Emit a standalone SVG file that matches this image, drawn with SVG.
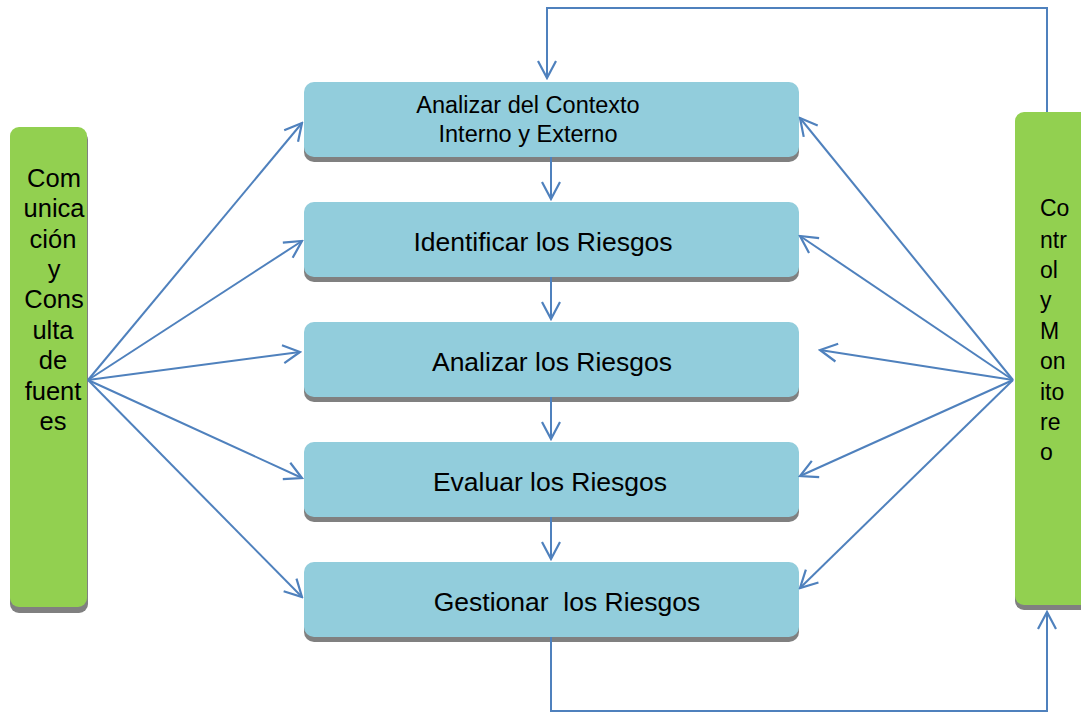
<svg xmlns="http://www.w3.org/2000/svg" width="1081" height="713" viewBox="0 0 1081 713">
<defs>
<marker id="ah" viewBox="-18 -11 20 22" markerWidth="20" markerHeight="22" refX="0" refY="0" orient="auto" markerUnits="userSpaceOnUse">
<path d="M-17,-9 L0,0 L-17,9" fill="none" stroke="#4F81BD" stroke-width="2.2"/>
</marker>
</defs>
<style>
.box{fill:#92CDDC}
.shadow{fill:#808080}
.green{fill:#92D050}
.t{font-family:"Liberation Sans",Arial,sans-serif;fill:#000}
.c{stroke:#4F81BD;stroke-width:2;fill:none}
.a{marker-end:url(#ah)}
</style>
<rect width="1081" height="713" fill="#fff"/>

<g id="comunicacion">
<rect class="shadow" x="10" y="131" width="78" height="482" rx="9"/>
<rect class="green" x="10" y="127" width="77" height="480" rx="9"/>
<g class="t" font-size="25.5" text-anchor="middle">
<text x="54" y="187">Com</text>
<text x="54" y="217">unica</text>
<text x="53" y="248">ción</text>
<text x="54" y="278">y</text>
<text x="54" y="308">Cons</text>
<text x="53" y="339">ulta</text>
<text x="53" y="369">de</text>
<text x="53" y="400">fuent</text>
<text x="53" y="430">es</text>
</g>
</g>

<g id="control">
<rect class="shadow" x="1015" y="116" width="80" height="494" rx="9"/>
<rect class="green" x="1015" y="112" width="80" height="493" rx="9"/>
<g class="t" font-size="23">
<text x="1040" y="216">Co</text>
<text x="1040" y="248">ntr</text>
<text x="1040" y="278">ol</text>
<text x="1040" y="308">y</text>
<text x="1040" y="339">M</text>
<text x="1040" y="369">on</text>
<text x="1040" y="400">ito</text>
<text x="1040" y="430">re</text>
<text x="1040" y="460">o</text>
</g>
</g>

<g id="contexto">
<rect class="shadow" x="304" y="87" width="495" height="75" rx="10"/>
<rect class="box" x="304" y="82" width="495" height="75" rx="10"/>
<text class="t" font-size="23.5" text-anchor="middle" x="528" y="113">Analizar del Contexto</text>
<text class="t" font-size="23.5" text-anchor="middle" x="528" y="142">Interno y Externo</text>
</g>

<g id="identificar">
<rect class="shadow" x="304" y="207" width="495" height="75" rx="10"/>
<rect class="box" x="304" y="202" width="495" height="75" rx="10"/>
<text class="t" font-size="26.5" text-anchor="middle" x="543" y="251">Identificar los Riesgos</text>
</g>

<g id="analizar">
<rect class="shadow" x="304" y="327" width="495" height="75" rx="10"/>
<rect class="box" x="304" y="322" width="495" height="75" rx="10"/>
<text class="t" font-size="26.5" text-anchor="middle" x="552" y="371">Analizar los Riesgos</text>
</g>

<g id="evaluar">
<rect class="shadow" x="304" y="447" width="495" height="75" rx="10"/>
<rect class="box" x="304" y="442" width="495" height="75" rx="10"/>
<text class="t" font-size="26.5" text-anchor="middle" x="550" y="491">Evaluar los Riesgos</text>
</g>

<g id="gestionar">
<rect class="shadow" x="304" y="567" width="495" height="75" rx="10"/>
<rect class="box" x="304" y="562" width="495" height="75" rx="10"/>
<text class="t" font-size="26.5" text-anchor="middle" x="567" y="611" xml:space="preserve">Gestionar  los Riesgos</text>
</g>

<g id="connectors">
<path class="c a" d="M551,157 L551,199"/>
<path class="c a" d="M551,277 L551,319"/>
<path class="c a" d="M551,397 L551,439"/>
<path class="c a" d="M551,517 L551,559"/>
<path class="c a" d="M1047,112 L1047,8 L547,8 L547,78"/>
<path class="c a" d="M551,637 L551,711 L1047,711 L1047,612"/>
<path class="c a" d="M88,380 L302,123"/>
<path class="c a" d="M88,380 L302,241"/>
<path class="c a" d="M88,380 L300,352"/>
<path class="c a" d="M88,380 L302,478"/>
<path class="c a" d="M88,380 L302,597"/>
<path class="c a" d="M1013,380 L800,118"/>
<path class="c a" d="M1013,380 L800,236"/>
<path class="c a" d="M1013,380 L820,350"/>
<path class="c a" d="M1013,380 L800,476"/>
<path class="c a" d="M1013,380 L800,588"/>
</g>
</svg>
